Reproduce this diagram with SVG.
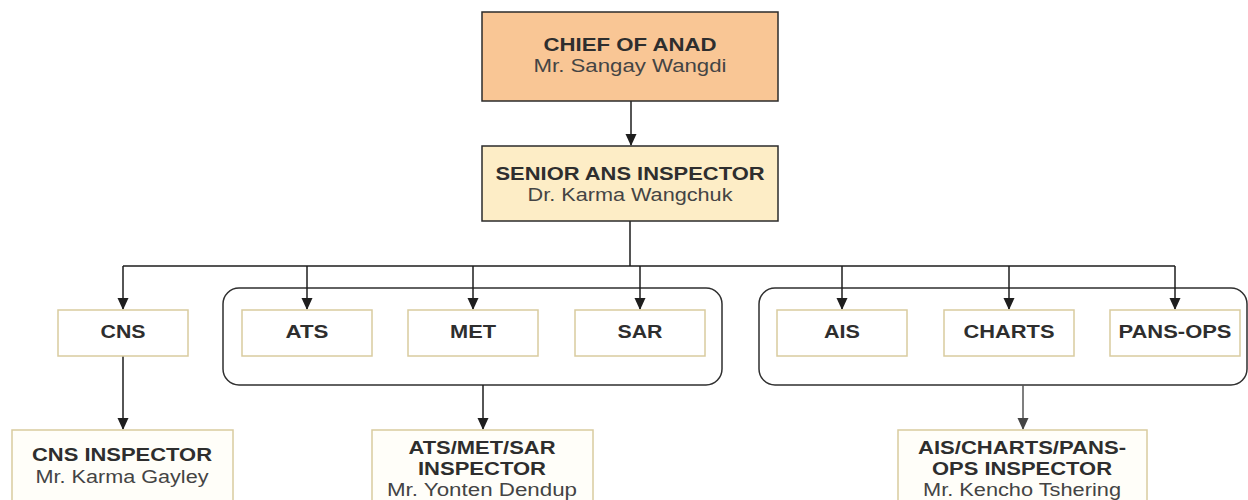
<svg xmlns="http://www.w3.org/2000/svg" width="1248" height="500" viewBox="0 0 1248 500">
<style>
.bg{fill:#ffffff}
.t{font-family:"Liberation Sans",Arial,sans-serif;font-size:17.5px;text-anchor:middle}
.b{font-weight:bold;fill:#2e2e2e}
.r{fill:#444444}
.top{stroke:#2b2b2b;stroke-width:1.5}
.leaf{fill:#ffffff;stroke:#d9cb9f;stroke-width:1.5}
.insp{fill:#fffef9;stroke:#d9cb9f;stroke-width:1.5}
.grp{fill:none;stroke:#2f2f2f;stroke-width:1.5}
.c{fill:none;stroke:#1e1e1e;stroke-width:1.5}
.cg{fill:none;stroke:#555555;stroke-width:1.5}
</style>
<defs>
<marker id="ah" markerWidth="12" markerHeight="12" refX="11" refY="6" orient="auto" markerUnits="userSpaceOnUse">
<path d="M0,0.5 L12,6 L0,11.5 Z" fill="#1e1e1e"/>
</marker>
<marker id="ahg" markerWidth="12" markerHeight="12" refX="11" refY="6" orient="auto" markerUnits="userSpaceOnUse">
<path d="M0,0.5 L12,6 L0,11.5 Z" fill="#444444"/>
</marker>
</defs>
<rect class="bg" x="0" y="0" width="1248" height="500"/>

<g id="group-ats-met-sar"><rect class="grp" x="223" y="288" width="499" height="97" rx="16"/></g>
<g id="group-ais-charts-pansops"><rect class="grp" x="759" y="288" width="488" height="97" rx="16"/></g>

<g id="connectors">
<path class="c" d="M631,101 V145" marker-end="url(#ah)"/>
<path class="c" d="M630,221 V266 M123,266 H1175"/>
<path class="c" d="M123,266 V309" marker-end="url(#ah)"/>
<path class="c" d="M307,266 V309" marker-end="url(#ah)"/>
<path class="c" d="M473,266 V309" marker-end="url(#ah)"/>
<path class="c" d="M640,266 V309" marker-end="url(#ah)"/>
<path class="c" d="M842,266 V309" marker-end="url(#ah)"/>
<path class="c" d="M1009,266 V309" marker-end="url(#ah)"/>
<path class="c" d="M1175,266 V309" marker-end="url(#ah)"/>
<path class="c" d="M123,356 V429" marker-end="url(#ah)"/>
<path class="c" d="M483,385 V429" marker-end="url(#ah)"/>
<path class="cg" d="M1023,385 V429" marker-end="url(#ahg)"/>
</g>

<g id="chief">
<rect class="top" x="482" y="12" width="296" height="89" fill="#f9c695"/>
<text class="t b" x="630" y="51" textLength="173" lengthAdjust="spacingAndGlyphs">CHIEF OF ANAD</text>
<text class="t r" x="630" y="72" textLength="193" lengthAdjust="spacingAndGlyphs">Mr. Sangay Wangdi</text>
</g>

<g id="senior">
<rect class="top" x="482" y="146" width="296" height="75" fill="#fdedc6"/>
<text class="t b" x="630" y="180" textLength="269" lengthAdjust="spacingAndGlyphs">SENIOR ANS INSPECTOR</text>
<text class="t r" x="630" y="201" textLength="205" lengthAdjust="spacingAndGlyphs">Dr. Karma Wangchuk</text>
</g>

<g id="cns">
<rect class="leaf" x="58" y="310" width="130" height="46"/>
<text class="t b" x="123" y="338" textLength="45" lengthAdjust="spacingAndGlyphs">CNS</text>
</g>
<g id="ats">
<rect class="leaf" x="242" y="310" width="130" height="46"/>
<text class="t b" x="307" y="338" textLength="43" lengthAdjust="spacingAndGlyphs">ATS</text>
</g>
<g id="met">
<rect class="leaf" x="408" y="310" width="130" height="46"/>
<text class="t b" x="473" y="338" textLength="46" lengthAdjust="spacingAndGlyphs">MET</text>
</g>
<g id="sar">
<rect class="leaf" x="575" y="310" width="130" height="46"/>
<text class="t b" x="640" y="338" textLength="45" lengthAdjust="spacingAndGlyphs">SAR</text>
</g>
<g id="ais">
<rect class="leaf" x="777" y="310" width="130" height="46"/>
<text class="t b" x="842" y="338" textLength="36" lengthAdjust="spacingAndGlyphs">AIS</text>
</g>
<g id="charts">
<rect class="leaf" x="944" y="310" width="130" height="46"/>
<text class="t b" x="1009" y="338" textLength="91" lengthAdjust="spacingAndGlyphs">CHARTS</text>
</g>
<g id="pans-ops">
<rect class="leaf" x="1110" y="310" width="130" height="46"/>
<text class="t b" x="1175" y="338" textLength="113" lengthAdjust="spacingAndGlyphs">PANS-OPS</text>
</g>

<g id="cns-inspector">
<rect class="insp" x="12" y="430" width="221" height="80"/>
<text class="t b" x="122" y="461" textLength="180" lengthAdjust="spacingAndGlyphs">CNS INSPECTOR</text>
<text class="t r" x="122" y="483" textLength="173" lengthAdjust="spacingAndGlyphs">Mr. Karma Gayley</text>
</g>

<g id="ats-met-sar-inspector">
<rect class="insp" x="372" y="430" width="221" height="80"/>
<text class="t b" x="482" y="454" textLength="147" lengthAdjust="spacingAndGlyphs">ATS/MET/SAR</text>
<text class="t b" x="482" y="475" textLength="128" lengthAdjust="spacingAndGlyphs">INSPECTOR</text>
<text class="t r" x="482" y="496" textLength="190" lengthAdjust="spacingAndGlyphs">Mr. Yonten Dendup</text>
</g>

<g id="ais-charts-pansops-inspector">
<rect class="insp" x="898" y="430" width="249" height="80"/>
<text class="t b" x="1022" y="454" textLength="208" lengthAdjust="spacingAndGlyphs">AIS/CHARTS/PANS-</text>
<text class="t b" x="1022" y="475" textLength="180" lengthAdjust="spacingAndGlyphs">OPS INSPECTOR</text>
<text class="t r" x="1022" y="496" textLength="198" lengthAdjust="spacingAndGlyphs">Mr. Kencho Tshering</text>
</g>
</svg>
